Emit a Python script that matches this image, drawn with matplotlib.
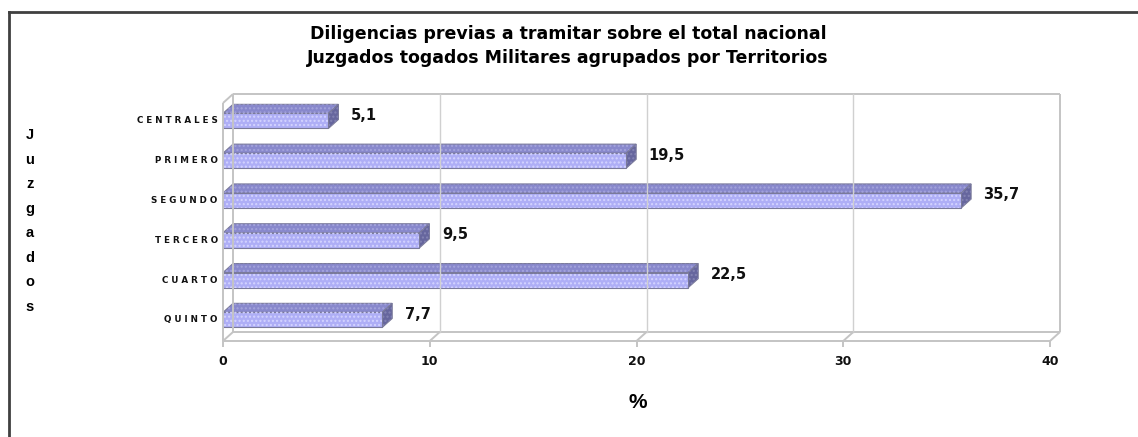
import matplotlib
matplotlib.use("Agg")
import matplotlib.pyplot as plt
from matplotlib.patches import Polygon
from matplotlib.lines import Line2D

# ---- data ----
categories = ["QUINTO", "CUARTO", "TERCERO", "SEGUNDO", "PRIMERO", "CENTRALES"]
values = [7.7, 22.5, 9.5, 35.7, 19.5, 5.1]
value_labels = ["7,7", "22,5", "9,5", "35,7", "19,5", "5,1"]
x_ticks = [0, 10, 20, 30, 40]
title_lines = ["Diligencias previas a tramitar sobre el total nacional",
               "Juzgados togados Militares agrupados por Territorios"]
y_title = "Juzgados"
x_title = "%"

W, H = 1138, 437
fig = plt.figure(figsize=(W / 100, H / 100), dpi=100)
fig.patch.set_facecolor("white")

FONT = "Liberation Sans"
WIDE = "DejaVu Sans"

# frame lines (top and left)
fig.add_artist(Line2D([8.5 / W, 1.0], [1 - 11.5 / H, 1 - 11.5 / H], transform=fig.transFigure,
                      color="#404040", lw=2))
fig.add_artist(Line2D([8.5 / W, 8.5 / W], [0, 1 - 11.5 / H], transform=fig.transFigure,
                      color="#404040", lw=2))

# axes: front plane 0..40 from x=223 to 1050 px, floor y=341, back wall top y=94
x0p, x1p = 223, 1050
yb, yt = 341, 94
ax = fig.add_axes([x0p / W, 1 - yb / H, (x1p - x0p) / W, (yb - yt) / H])
ax.set_axis_off()
YMIN = -0.53
YMAX = 5.676
ax.set_xlim(0, 40)
ax.set_ylim(YMIN, YMAX)

DX = 10 / ((x1p - x0p) / 40.0)   # depth in data units (x)
DY = 9 / ((yb - yt) / (YMAX - YMIN))  # depth in data units (y)
FRONT_TOP = YMAX - DY
XMAX = x_ticks[-1]

wall = dict(color="#c4c4c4", lw=1.4, clip_on=False, solid_capstyle="butt")
grid = dict(color="#d0d0d0", lw=1.0, clip_on=False)

# back wall
ax.plot([0 + DX, XMAX + DX], [YMAX, YMAX], **wall)
ax.plot([XMAX + DX, XMAX + DX], [YMIN + DY, YMAX], **wall)
ax.plot([0 + DX, XMAX + DX], [YMIN + DY, YMIN + DY], **wall)
ax.plot([0 + DX, 0 + DX], [YMIN + DY, YMAX], **wall)
for t in x_ticks[1:-1]:
    ax.plot([t + DX, t + DX], [YMIN + DY, YMAX], **grid)
# left wall
ax.plot([0, 0], [YMIN, FRONT_TOP], **wall)
ax.plot([0, DX], [FRONT_TOP, YMAX], **wall)
# floor
ax.plot([0, XMAX], [YMIN, YMIN], **wall)
for t in x_ticks:
    ax.plot([t, t + DX], [YMIN, YMIN + DY], **wall)
    ax.plot([t, t], [YMIN, YMIN - 0.15], **wall)

# bars
HALF = 0.19
front_col = "#aeaef6"
top_col = "#8888cc"
side_col = "#66669e"
edge_col = "#7a7a9a"
for i, (v, lab) in enumerate(zip(values, value_labels)):
    y0, y1 = i - HALF, i + HALF
    faces = [
        ([(0, y1), (v, y1), (v + DX, y1 + DY), (DX, y1 + DY)], top_col, "#a4a4dc"),
        ([(v, y0), (v + DX, y0 + DY), (v + DX, y1 + DY), (v, y1)], side_col, "#8484b4"),
        ([(0, y0), (v, y0), (v, y1), (0, y1)], front_col, "#d4d4ff"),
    ]
    for pts, fc, hc in faces:
        ax.add_patch(Polygon(pts, closed=True, facecolor=fc, edgecolor=edge_col, lw=0.8,
                             clip_on=False))
        ax.add_patch(Polygon(pts, closed=True, fill=False, hatch="....", edgecolor=hc,
                             lw=0, clip_on=False))
    ax.text(v + DX + 0.6, i + 0.14, lab, ha="left", va="center", fontsize=10.5,
            fontweight="bold", family=WIDE, color="#111111")
    ax.text(-0.25, i, " ".join(categories[i]), ha="right", va="center", fontsize=6.3,
            fontweight="bold", family=WIDE, color="#111111")

# x tick labels
for t in x_ticks:
    ax.text(t, YMIN - 0.52, str(t), ha="center", va="center", fontsize=9,
            fontweight="bold", family=WIDE, color="#111111")

# titles
fig.text(568 / W, 1 - 34 / H, title_lines[0], ha="center", va="center", fontsize=12.5,
         fontweight="bold", family=WIDE)
fig.text(568 / W, 1 - 58 / H, title_lines[1], ha="center", va="center", fontsize=12.5,
         fontweight="bold", family=WIDE)
fig.text(638 / W, 1 - 403 / H, x_title, ha="center", va="center", fontsize=15,
         fontweight="bold", family=FONT)
fig.text(30 / W, 1 - 221 / H, "\n".join(y_title), ha="center", va="center", fontsize=10.5,
         fontweight="bold", family=FONT, linespacing=1.95)

fig.savefig("out.png", dpi=100, facecolor="white")
